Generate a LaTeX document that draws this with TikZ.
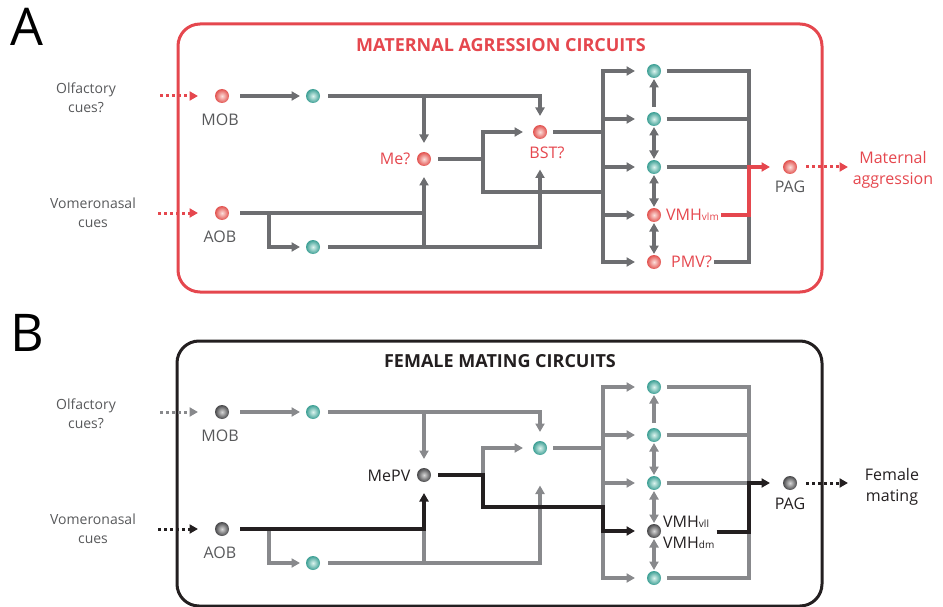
\documentclass[tikz,border=0pt]{standalone}
\usepackage{fontspec}
\setmainfont{Open Sans}
\usetikzlibrary{arrows.meta,calc}
\definecolor{myred}{HTML}{E5474E}
\definecolor{lgA}{HTML}{6D6E71}
\definecolor{lgB}{HTML}{88898C}
\definecolor{txg}{HTML}{58595B}
\definecolor{myblk}{HTML}{231F20}
\definecolor{rdIn}{HTML}{FCE0DC}
\definecolor{rdOut}{HTML}{E2524F}
\definecolor{tlIn}{HTML}{DDF4EF}
\definecolor{tlOut}{HTML}{3C9F94}
\definecolor{dkIn}{HTML}{D8D8D8}
\definecolor{dkOut}{HTML}{48484A}
\tikzset{
  x=1pt, y=-1pt,
  >={Triangle[length=8.5pt,width=9pt]},
  dot/.style={circle, minimum size=14pt, inner sep=0pt, outer sep=5.5pt},
  rdot/.style={dot, inner color=rdIn, outer color=rdOut},
  tdot/.style={dot, inner color=tlIn, outer color=tlOut},
  kdot/.style={dot, inner color=dkIn, outer color=dkOut},
  txt/.style={font=\fontsize{16}{18}\selectfont, inner sep=2pt},
  cue/.style={font=\fontsize{14}{19}\selectfont, align=center, text=txg},
  ttl/.style={font=\bfseries\fontsize{18}{20}\selectfont},
  panel/.style={font=\fontsize{52}{52}\selectfont, text=black},
  gA/.style={draw=lgA, line width=3.6pt},
  gB/.style={draw=lgB, line width=3.3pt},
  rl/.style={draw=myred, line width=3.6pt},
  bl/.style={draw=myblk, line width=3.6pt},
  dots/.style={line width=3pt, dash pattern=on 3pt off 3pt},
}
\begin{document}
\begin{tikzpicture}
\useasboundingbox (0,0) rectangle (943,607);

% ================= PANEL A =================
\node[panel] (letA) at (27,27) {A};
\draw[myred, line width=3pt, rounded corners=22pt] (178,24) rectangle (822,292);
\node[ttl, text=myred] (titA) at (501,45) {MATERNAL AGRESSION CIRCUITS};

\node[cue] (olfA) at (86,98) {Olfactory\\cues?};
\node[cue] (vomA) at (93,213) {Vomeronasal\\cues};

\node[rdot] (mobA) at (222,96) {};
\node[txt, text=txg] (mobAl) at (220,120) {MOB};
\node[tdot] (tA1) at (313,96) {};
\node[rdot] (meA) at (424,159) {};
\node[txt, text=myred] (meAl) at (395,159) {Me?};
\node[rdot] (bstA) at (540,132) {};
\node[txt, text=myred] (bstAl) at (547,153) {BST?};
\node[rdot] (aobA) at (222,213) {};
\node[txt, text=txg] (aobAl) at (220,237) {AOB};
\node[tdot] (tA2) at (313,247) {};

\node[tdot] (cA1) at (654,71) {};
\node[tdot] (cA2) at (654,119) {};
\node[tdot] (cA3) at (654,167) {};
\node[rdot] (vmhA) at (654,215) {};
\node[txt, text=myred, anchor=west] (vmhAl) at (664,215) {VMH{\fontsize{10}{10}\selectfont vlm}};
\node[rdot] (pmvA) at (654,262) {};
\node[txt, text=myred, anchor=west] (pmvAl) at (669,262) {PMV?};
\node[rdot] (pagA) at (790,167) {};
\node[txt, text=txg] (pagAl) at (790,187) {PAG};
\node[txt, text=myred, align=center, font=\fontsize{16}{21}\selectfont] (outAl) at (893,170) {Maternal\\aggression};

\coordinate (inA1) at (160,96);
\coordinate (inA2) at (158,213);
\coordinate (outA) at (848,167);
\coordinate (busA) at (603,0);
\coordinate (busRA) at (749,0);
\coordinate (jA) at (483,159);
\coordinate (lowA) at (603,192);
\coordinate (brA) at (269,213);

% inputs
\draw[dots, myred, -{Triangle[length=8.5pt,width=9pt]}, shorten >=11.5pt] (inA1) -- (mobA);
\draw[dots, myred, -{Triangle[length=8.5pt,width=9pt]}, shorten >=11.5pt] (inA2) -- (aobA);
% MOB row
\draw[gA,->, shorten <=5.5pt, shorten >=0.5pt] (mobA) -- (tA1);
\draw[gA,->, shorten <=2.5pt, shorten >=3.5pt] (tA1) -| (bstA);
\draw[gA,->, shorten >=3.5pt] (tA1 -| meA) -- (meA);
% Me junction
\draw[gA, shorten <=1.5pt] (meA) -- (jA) |- (lowA);
\draw[gA,->, shorten >=4.5pt] (jA) |- (bstA);
% AOB row
\draw[gA,->, shorten <=5.5pt, shorten >=5.5pt] (aobA) -| (meA);
\draw[gA,->, shorten >=0.5pt] (brA) |- (tA2);
\draw[gA,->, shorten <=2.5pt, shorten >=25pt] (tA2) -| (bstA);
\draw[gA] (tA2 -| meA) -- (aobA -| meA);
% BST to bus
\draw[gA, shorten <=0.5pt] (bstA) -- (bstA -| busA);
% left bus
\draw[gA,->, shorten >=6.5pt] (cA3 -| busA) |- (cA1);
\draw[gA,->, shorten >=6.5pt] (cA3 -| busA) |- (pmvA);
\draw[gA,->, shorten >=6.5pt] (cA2 -| busA) -- (cA2);
\draw[gA,->, shorten >=6.5pt] (cA3 -| busA) -- (cA3);
\draw[gA,->, shorten >=6.5pt] (vmhA -| busA) -- (vmhA);
% vertical links
\draw[gA,->, shorten <=-0.5pt, shorten >=-4.5pt] (cA2) -- (cA1);
\draw[gA,<->, shorten <=-4.5pt, shorten >=-4.5pt] (cA2) -- (cA3);
\draw[gA,<->, shorten <=-4.5pt, shorten >=-4.5pt] (cA3) -- (vmhA);
\draw[gA,<->, shorten <=-4.5pt, shorten >=-4.5pt] (vmhA) -- (pmvA);
% right bus
\draw[gA] (cA1) -| (pmvA -| busRA) -- (pmvAl);
\draw[gA] (cA2) -- (cA2 -| busRA);
\draw[gA] (cA3) -- (cA3 -| busRA);
\draw[rl,->, shorten >=7.5pt] (vmhAl) -| (cA3 -| busRA) -- (pagA);
% output
\draw[dots, myred, -{Triangle[length=8.5pt,width=9pt]}, shorten <=3.5pt] (pagA) -- (outA);

% ================= PANEL B =================
\node[panel] (letB) at (27,333) {B};
\draw[myblk, line width=3pt, rounded corners=22pt] (177,341) rectangle (822,606);
\node[ttl, text=myblk] (titB) at (500,361) {FEMALE MATING CIRCUITS};

\node[cue] (olfB) at (86,414) {Olfactory\\cues?};
\node[cue] (vomB) at (93,529) {Vomeronasal\\cues};

\node[kdot] (mobB) at (222,412) {};
\node[txt, text=txg] (mobBl) at (220,436) {MOB};
\node[tdot] (tB1) at (313,412) {};
\node[kdot] (meB) at (424,475) {};
\node[txt, text=myblk] (meBl) at (389,476) {MePV};
\node[tdot] (bstB) at (540,448) {};
\node[kdot] (aobB) at (222,529) {};
\node[txt, text=txg] (aobBl) at (220,553) {AOB};
\node[tdot] (tB2) at (313,563) {};

\node[tdot] (cB1) at (654,387) {};
\node[tdot] (cB2) at (654,435) {};
\node[tdot] (cB3) at (654,483) {};
\node[kdot] (vmhB) at (654,531) {};
\node[txt, text=myblk, anchor=west, align=left, font=\fontsize{16}{21}\selectfont] (vmhBl) at (661,532) {VMH{\fontsize{10}{10}\selectfont vll}\\VMH{\fontsize{10}{10}\selectfont dm}};
\node[tdot] (cB5) at (654,578) {};
\node[kdot] (pagB) at (790,483) {};
\node[txt, text=myblk] (pagBl) at (790,504) {PAG};
\node[txt, text=myblk, align=center, font=\fontsize{16}{21}\selectfont] (outBl) at (892,487) {Female\\mating};

\coordinate (inB1) at (160,412);
\coordinate (inB2) at (158,529);
\coordinate (outB) at (848,483);
\coordinate (busB) at (603,0);
\coordinate (busRB) at (749,0);
\coordinate (jB) at (483,475);
\coordinate (lowB) at (603,507);
\coordinate (brB) at (269,529);

% inputs
\draw[dots, lgB, -{Triangle[length=8.5pt,width=9pt]}, shorten >=11.5pt] (inB1) -- (mobB);
\draw[dots, myblk, -{Triangle[length=8.5pt,width=9pt]}, shorten >=11.5pt] (inB2) -- (aobB);
% MOB row
\draw[gB,->, shorten <=5.5pt, shorten >=0.5pt] (mobB) -- (tB1);
\draw[gB,->, shorten <=2.5pt, shorten >=3.5pt] (tB1) -| (bstB);
\draw[gB,->, shorten >=3.5pt] (tB1 -| meB) -- (meB);
% junction gray branch
\draw[gB,->, shorten >=4.5pt] (jB) |- (bstB);
% AOB row gray parts
\draw[gB,->, shorten >=0.5pt] (brB) |- (tB2);
\draw[gB,->, shorten <=2.5pt, shorten >=25pt] (tB2) -| (bstB);
\draw[gB] (tB2 -| meB) -- (aobB -| meB);
% teal to bus
\draw[gB, shorten <=0.5pt] (bstB) -- (bstB -| busB);
% left bus
\draw[gB,->, shorten >=6.5pt] (cB3 -| busB) |- (cB1);
\draw[gB,->, shorten >=6.5pt] (cB3 -| busB) |- (cB5);
\draw[gB,->, shorten >=6.5pt] (cB2 -| busB) -- (cB2);
\draw[gB,->, shorten >=6.5pt] (cB3 -| busB) -- (cB3);
% vertical links
\draw[gB,->, shorten <=-0.5pt, shorten >=-4.5pt] (cB2) -- (cB1);
\draw[gB,<->, shorten <=-4.5pt, shorten >=-4.5pt] (cB2) -- (cB3);
\draw[gB,<->, shorten <=-4.5pt, shorten >=-4.5pt] (cB3) -- (vmhB);
\draw[gB,<->, shorten <=-4.5pt, shorten >=-4.5pt] (vmhB) -- (cB5);
% right bus
\draw[gB] (cB1) -| (cB5 -| busRB) -- (cB5);
\draw[gB] (cB2) -- (cB2 -| busRB);
\draw[gB] (cB3) -- (cB3 -| busRB);
% black pathway
\draw[bl,->, shorten <=5.5pt, shorten >=5.5pt] (aobB) -| (meB);
\draw[bl,->, shorten <=1.5pt, shorten >=6.5pt] (meB) -- (jB) |- (lowB) |- (vmhB);
\draw[bl,->, shorten >=7.5pt] (vmhBl.east) -| (cB3 -| busRB) -- (pagB);
% output
\draw[dots, myblk, -{Triangle[length=8.5pt,width=9pt]}, shorten <=3.5pt] (pagB) -- (outB);
\end{tikzpicture}
\end{document}
